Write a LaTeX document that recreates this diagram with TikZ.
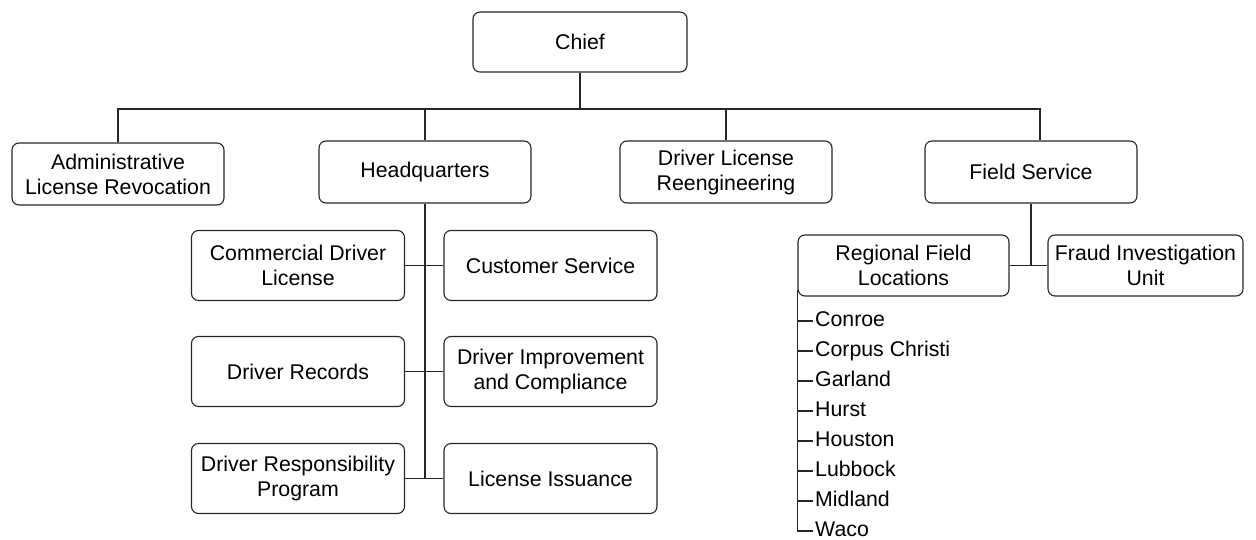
\documentclass[tikz,border=0pt]{standalone}
\usepackage{fontspec}
\setmainfont{Liberation Sans}
\usepackage{tikz}
\usetikzlibrary{calc}

\begin{document}
\begin{tikzpicture}[x=1pt,y={(0,-1pt)},
  unit/.style={draw=black!85,line width=1.1pt,rounded corners=7pt,align=center,
    minimum width=212pt,minimum height=62pt,inner sep=2pt,
    font=\fontsize{21.3}{25}\selectfont},
  sub/.style={unit,minimum height=70pt,minimum width=213pt},
  place/.style={anchor=west,inner sep=0pt,text height=15pt,text depth=4.5pt,
    font=\fontsize{21.3}{25}\selectfont},
  link/.style={draw=black!85,line width=1.1pt}]
\useasboundingbox (0,0) rectangle (1256,540);
% top level
\node[unit,minimum width=214pt,minimum height=60pt] (chief) at (580,42) {Chief};
\node[unit] (alr) at (118,174) {Administrative\\License Revocation};
\node[unit] (hq) at (425,172) {Headquarters};
\node[unit] (dlr) at (726,172) {Driver License\\Reengineering};
\node[unit] (fs) at (1031,172) {Field Service};
\coordinate (busL) at (117,109);
\coordinate (busR) at (1040,109);
\draw[link] (chief) -- (chief |- busL);
\draw[link] (alr) -- (alr |- busL) -- (busR) -- (busR |- fs.north);
\draw[link] (hq) -- (hq |- busL);
\draw[link] (dlr) -- (dlr |- busL);
% headquarters
\node[sub] (cdl) at (298,265.5) {Commercial Driver\\License};
\node[sub] (cs) at (550.5,265.5) {Customer Service};
\node[sub] (dr) at (298,371.5) {Driver Records};
\node[sub] (dic) at (550.5,371.5) {Driver Improvement\\and Compliance};
\node[sub] (drp) at (298,478.5) {Driver Responsibility\\Program};
\node[sub] (li) at (550.5,478.5) {License Issuance};
\draw[link] (hq) -- (hq |- li);
\draw[link] (cdl) -- (cs);
\draw[link] (dr) -- (dic);
\draw[link] (drp) -- (li);
% field service
\node[unit,minimum width=211pt,minimum height=61pt] (rfl) at (903.5,265.5) {Regional Field\\Locations};
\node[unit,minimum width=195pt,minimum height=61pt] (fiu) at (1145.5,265.5) {Fraud Investigation\\Unit};
\draw[link] (fs) -- (fs |- rfl);
\draw[link] (rfl) -- (fiu);
\foreach \town [count=\i] in {Conroe,Corpus Christi,Garland,Hurst,Houston,Lubbock,Midland,Waco}
  \node[place] (loc\i) at (815,{291+30*\i}) {\town};
\draw[link] ([yshift=7pt]rfl.south west) -- (rfl.south west |- loc8.west);
\foreach \i in {1,...,8}
  \draw[link] (rfl.south west |- loc\i.west) -- ([xshift=-2pt]loc\i.west);
\end{tikzpicture}
\end{document}
